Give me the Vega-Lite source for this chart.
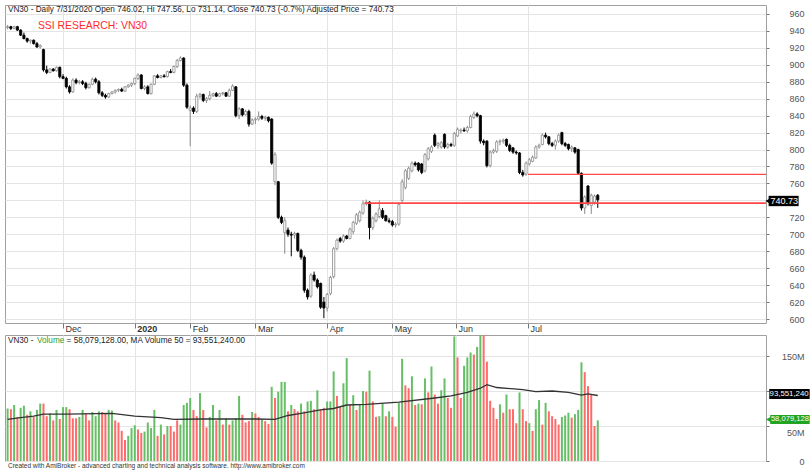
{
"$schema":"https://vega.github.io/schema/vega-lite/v6.json",
"padding":{"left":4,"top":4,"right":0,"bottom":0},
"background":"white",
"config":{"view":{"stroke":"#a0a0a0"},"font":"Liberation Sans","text":{"font":"Liberation Sans"}},
"datasets":{
"one":[{}],
"d":[
{"i":0,"o":944,"h":947,"l":942,"c":945,"v":75,"g":1},
{"i":1,"o":945,"h":946,"l":941,"c":943,"v":74,"g":0},
{"i":2,"o":943,"h":946,"l":942,"c":945,"v":80,"g":1},
{"i":3,"o":945,"h":946,"l":940,"c":941,"v":63,"g":0},
{"i":4,"o":941,"h":942,"l":934,"c":935,"v":76,"g":1},
{"i":5,"o":935,"h":938,"l":930,"c":931,"v":79,"g":1},
{"i":6,"o":931,"h":932,"l":926,"c":928,"v":66,"g":0},
{"i":7,"o":928,"h":930,"l":925,"c":929,"v":71,"g":1},
{"i":8,"o":929,"h":930,"l":924,"c":925,"v":63,"g":0},
{"i":9,"o":925,"h":927,"l":920,"c":921,"v":73,"g":1},
{"i":10,"o":921,"h":924,"l":919,"c":923,"v":82,"g":1},
{"i":11,"o":918,"h":919,"l":892,"c":894,"v":82,"g":0},
{"i":12,"o":894,"h":899,"l":889,"c":891,"v":64,"g":0},
{"i":13,"o":891,"h":896,"l":890,"c":895,"v":68,"g":1},
{"i":14,"o":895,"h":896,"l":892,"c":893,"v":58,"g":0},
{"i":15,"o":893,"h":898,"l":892,"c":897,"v":73,"g":1},
{"i":16,"o":897,"h":898,"l":884,"c":886,"v":60,"g":0},
{"i":17,"o":886,"h":889,"l":883,"c":884,"v":77,"g":1},
{"i":18,"o":884,"h":886,"l":872,"c":874,"v":77,"g":1},
{"i":19,"o":874,"h":876,"l":866,"c":868,"v":74,"g":0},
{"i":20,"o":868,"h":884,"l":867,"c":882,"v":61,"g":0},
{"i":21,"o":882,"h":884,"l":877,"c":879,"v":61,"g":0},
{"i":22,"o":879,"h":882,"l":877,"c":880,"v":63,"g":1},
{"i":23,"o":880,"h":882,"l":876,"c":878,"v":73,"g":1},
{"i":24,"o":878,"h":880,"l":871,"c":873,"v":68,"g":0},
{"i":25,"o":873,"h":878,"l":872,"c":877,"v":58,"g":0},
{"i":26,"o":877,"h":885,"l":876,"c":883,"v":70,"g":1},
{"i":27,"o":883,"h":885,"l":878,"c":880,"v":64,"g":1},
{"i":28,"o":880,"h":882,"l":865,"c":867,"v":71,"g":1},
{"i":29,"o":867,"h":869,"l":862,"c":864,"v":70,"g":0},
{"i":30,"o":864,"h":866,"l":860,"c":862,"v":68,"g":0},
{"i":31,"o":862,"h":867,"l":861,"c":866,"v":73,"g":1},
{"i":32,"o":866,"h":869,"l":865,"c":868,"v":72,"g":1},
{"i":33,"o":868,"h":871,"l":866,"c":870,"v":58,"g":0},
{"i":34,"o":870,"h":872,"l":868,"c":871,"v":55,"g":0},
{"i":35,"o":871,"h":873,"l":868,"c":869,"v":43,"g":0},
{"i":36,"o":869,"h":875,"l":868,"c":874,"v":30,"g":0},
{"i":37,"o":874,"h":877,"l":873,"c":876,"v":36,"g":1},
{"i":38,"o":876,"h":879,"l":874,"c":878,"v":47,"g":1},
{"i":39,"o":878,"h":885,"l":876,"c":884,"v":51,"g":1},
{"i":40,"o":884,"h":890,"l":882,"c":888,"v":45,"g":0},
{"i":41,"o":888,"h":889,"l":871,"c":872,"v":40,"g":0},
{"i":42,"o":872,"h":876,"l":870,"c":874,"v":42,"g":1},
{"i":43,"o":874,"h":876,"l":865,"c":866,"v":55,"g":1},
{"i":44,"o":866,"h":878,"l":865,"c":877,"v":47,"g":1},
{"i":45,"o":877,"h":888,"l":876,"c":887,"v":73,"g":1},
{"i":46,"o":887,"h":889,"l":884,"c":885,"v":36,"g":0},
{"i":47,"o":885,"h":888,"l":884,"c":887,"v":52,"g":1},
{"i":48,"o":887,"h":889,"l":885,"c":886,"v":38,"g":0},
{"i":49,"o":886,"h":893,"l":885,"c":892,"v":50,"g":1},
{"i":50,"o":892,"h":895,"l":890,"c":891,"v":50,"g":0},
{"i":51,"o":891,"h":899,"l":890,"c":898,"v":42,"g":0},
{"i":52,"o":898,"h":907,"l":896,"c":905,"v":58,"g":0},
{"i":53,"o":905,"h":910,"l":904,"c":908,"v":52,"g":1},
{"i":54,"o":908,"h":909,"l":874,"c":876,"v":80,"g":1},
{"i":55,"o":876,"h":878,"l":848,"c":850,"v":83,"g":1},
{"i":56,"o":846,"h":852,"l":804,"c":849,"v":90,"g":1},
{"i":57,"o":849,"h":851,"l":842,"c":845,"v":73,"g":0},
{"i":58,"o":845,"h":866,"l":843,"c":863,"v":64,"g":0},
{"i":59,"o":863,"h":867,"l":860,"c":865,"v":97,"g":1},
{"i":60,"o":865,"h":866,"l":856,"c":858,"v":73,"g":0},
{"i":61,"o":858,"h":862,"l":855,"c":860,"v":48,"g":0},
{"i":62,"o":860,"h":869,"l":858,"c":864,"v":63,"g":1},
{"i":63,"o":864,"h":867,"l":862,"c":866,"v":80,"g":1},
{"i":64,"o":866,"h":868,"l":862,"c":863,"v":58,"g":0},
{"i":65,"o":863,"h":867,"l":862,"c":866,"v":73,"g":1},
{"i":66,"o":866,"h":868,"l":864,"c":867,"v":52,"g":0},
{"i":67,"o":867,"h":868,"l":862,"c":863,"v":61,"g":1},
{"i":68,"o":863,"h":872,"l":862,"c":870,"v":52,"g":0},
{"i":69,"o":870,"h":877,"l":869,"c":875,"v":58,"g":1},
{"i":70,"o":874,"h":875,"l":838,"c":840,"v":61,"g":1},
{"i":71,"o":840,"h":850,"l":836,"c":848,"v":93,"g":1},
{"i":72,"o":848,"h":849,"l":839,"c":841,"v":66,"g":0},
{"i":73,"o":841,"h":847,"l":840,"c":845,"v":55,"g":0},
{"i":74,"o":845,"h":847,"l":827,"c":830,"v":57,"g":0},
{"i":75,"o":830,"h":837,"l":829,"c":835,"v":70,"g":1},
{"i":76,"o":835,"h":838,"l":830,"c":836,"v":68,"g":0},
{"i":77,"o":836,"h":845,"l":834,"c":839,"v":63,"g":0},
{"i":78,"o":839,"h":841,"l":835,"c":837,"v":60,"g":1},
{"i":79,"o":837,"h":840,"l":834,"c":838,"v":57,"g":0},
{"i":80,"o":838,"h":839,"l":832,"c":834,"v":53,"g":0},
{"i":81,"o":836,"h":837,"l":782,"c":784,"v":106,"g":1},
{"i":82,"o":762,"h":797,"l":758,"c":794,"v":90,"g":0},
{"i":83,"o":762,"h":763,"l":718,"c":720,"v":99,"g":1},
{"i":84,"o":720,"h":722,"l":712,"c":714,"v":113,"g":1},
{"i":85,"o":702,"h":720,"l":677,"c":716,"v":113,"g":1},
{"i":86,"o":705,"h":708,"l":697,"c":700,"v":71,"g":0},
{"i":87,"o":700,"h":703,"l":674,"c":699,"v":80,"g":1},
{"i":88,"o":699,"h":703,"l":695,"c":701,"v":74,"g":0},
{"i":89,"o":701,"h":702,"l":679,"c":681,"v":71,"g":0},
{"i":90,"o":681,"h":683,"l":670,"c":673,"v":82,"g":1},
{"i":91,"o":673,"h":675,"l":631,"c":634,"v":71,"g":0},
{"i":92,"o":634,"h":636,"l":623,"c":626,"v":85,"g":1},
{"i":93,"o":627,"h":654,"l":625,"c":652,"v":86,"g":1},
{"i":94,"o":652,"h":656,"l":644,"c":646,"v":74,"g":0},
{"i":95,"o":646,"h":648,"l":636,"c":638,"v":101,"g":1},
{"i":96,"o":642,"h":643,"l":612,"c":614,"v":74,"g":0},
{"i":97,"o":620,"h":626,"l":601,"c":613,"v":76,"g":0},
{"i":98,"o":613,"h":631,"l":609,"c":629,"v":85,"g":1},
{"i":99,"o":630,"h":651,"l":628,"c":649,"v":85,"g":1},
{"i":100,"o":650,"h":685,"l":648,"c":683,"v":128,"g":1},
{"i":101,"o":683,"h":695,"l":681,"c":693,"v":93,"g":0},
{"i":102,"o":695,"h":697,"l":690,"c":692,"v":77,"g":0},
{"i":103,"o":692,"h":700,"l":690,"c":698,"v":111,"g":1},
{"i":104,"o":698,"h":699,"l":694,"c":695,"v":147,"g":1},
{"i":105,"o":695,"h":708,"l":694,"c":706,"v":80,"g":0},
{"i":106,"o":703,"h":716,"l":700,"c":714,"v":94,"g":1},
{"i":107,"o":713,"h":725,"l":711,"c":723,"v":73,"g":0},
{"i":108,"o":716,"h":728,"l":714,"c":726,"v":80,"g":1},
{"i":109,"o":725,"h":740,"l":723,"c":736,"v":100,"g":1},
{"i":110,"o":736,"h":741,"l":734,"c":738,"v":99,"g":0},
{"i":111,"o":738,"h":739,"l":694,"c":708,"v":129,"g":1},
{"i":112,"o":708,"h":721,"l":705,"c":719,"v":85,"g":0},
{"i":113,"o":716,"h":726,"l":714,"c":724,"v":63,"g":0},
{"i":114,"o":721,"h":740,"l":719,"c":730,"v":64,"g":1},
{"i":115,"o":728,"h":731,"l":718,"c":720,"v":82,"g":1},
{"i":116,"o":722,"h":723,"l":715,"c":716,"v":64,"g":0},
{"i":117,"o":716,"h":719,"l":713,"c":715,"v":71,"g":1},
{"i":118,"o":715,"h":717,"l":709,"c":711,"v":63,"g":0},
{"i":119,"o":711,"h":714,"l":708,"c":712,"v":49,"g":0},
{"i":120,"o":712,"h":737,"l":710,"c":735,"v":83,"g":1},
{"i":121,"o":740,"h":765,"l":738,"c":762,"v":146,"g":1},
{"i":122,"o":755,"h":777,"l":753,"c":775,"v":108,"g":0},
{"i":123,"o":766,"h":780,"l":764,"c":778,"v":104,"g":0},
{"i":124,"o":775,"h":786,"l":773,"c":784,"v":121,"g":1},
{"i":125,"o":784,"h":786,"l":780,"c":782,"v":80,"g":0},
{"i":126,"o":784,"h":785,"l":774,"c":776,"v":82,"g":1},
{"i":127,"o":783,"h":784,"l":771,"c":773,"v":81,"g":0},
{"i":128,"o":775,"h":796,"l":773,"c":794,"v":118,"g":1},
{"i":129,"o":789,"h":803,"l":787,"c":801,"v":98,"g":0},
{"i":130,"o":798,"h":805,"l":796,"c":803,"v":135,"g":1},
{"i":131,"o":817,"h":819,"l":803,"c":805,"v":95,"g":0},
{"i":132,"o":805,"h":809,"l":801,"c":807,"v":82,"g":0},
{"i":133,"o":803,"h":810,"l":801,"c":808,"v":101,"g":1},
{"i":134,"o":818,"h":819,"l":801,"c":803,"v":118,"g":1},
{"i":135,"o":803,"h":808,"l":801,"c":806,"v":90,"g":0},
{"i":136,"o":806,"h":808,"l":803,"c":805,"v":76,"g":0},
{"i":137,"o":805,"h":821,"l":803,"c":819,"v":178,"g":1},
{"i":138,"o":816,"h":826,"l":815,"c":824,"v":148,"g":0},
{"i":139,"o":822,"h":825,"l":819,"c":823,"v":90,"g":0},
{"i":140,"o":823,"h":826,"l":821,"c":822,"v":136,"g":1},
{"i":141,"o":822,"h":828,"l":820,"c":826,"v":148,"g":1},
{"i":142,"o":826,"h":841,"l":825,"c":839,"v":155,"g":1},
{"i":143,"o":838,"h":845,"l":836,"c":842,"v":152,"g":0},
{"i":144,"o":842,"h":844,"l":838,"c":840,"v":163,"g":1},
{"i":145,"o":840,"h":841,"l":807,"c":810,"v":185,"g":1},
{"i":146,"o":810,"h":812,"l":805,"c":808,"v":185,"g":0},
{"i":147,"o":810,"h":811,"l":779,"c":781,"v":142,"g":0},
{"i":148,"o":781,"h":799,"l":779,"c":797,"v":86,"g":0},
{"i":149,"o":797,"h":801,"l":795,"c":799,"v":76,"g":0},
{"i":150,"o":798,"h":811,"l":796,"c":809,"v":60,"g":0},
{"i":151,"o":809,"h":812,"l":805,"c":810,"v":81,"g":1},
{"i":152,"o":810,"h":813,"l":807,"c":811,"v":69,"g":0},
{"i":153,"o":812,"h":813,"l":803,"c":805,"v":95,"g":1},
{"i":154,"o":805,"h":807,"l":797,"c":799,"v":74,"g":0},
{"i":155,"o":802,"h":803,"l":795,"c":797,"v":74,"g":0},
{"i":156,"o":797,"h":799,"l":794,"c":796,"v":54,"g":0},
{"i":157,"o":796,"h":797,"l":771,"c":773,"v":98,"g":1},
{"i":158,"o":773,"h":776,"l":768,"c":770,"v":74,"g":0},
{"i":159,"o":771,"h":786,"l":769,"c":784,"v":57,"g":0},
{"i":160,"o":783,"h":790,"l":781,"c":788,"v":54,"g":1},
{"i":161,"o":786,"h":793,"l":785,"c":791,"v":43,"g":0},
{"i":162,"o":790,"h":805,"l":789,"c":803,"v":74,"g":1},
{"i":163,"o":803,"h":807,"l":801,"c":805,"v":87,"g":1},
{"i":164,"o":806,"h":819,"l":805,"c":817,"v":52,"g":0},
{"i":165,"o":817,"h":820,"l":813,"c":815,"v":83,"g":1},
{"i":166,"o":815,"h":816,"l":805,"c":807,"v":71,"g":0},
{"i":167,"o":807,"h":809,"l":803,"c":805,"v":64,"g":0},
{"i":168,"o":805,"h":812,"l":800,"c":810,"v":60,"g":0},
{"i":169,"o":810,"h":819,"l":808,"c":817,"v":52,"g":0},
{"i":170,"o":820,"h":821,"l":805,"c":807,"v":63,"g":1},
{"i":171,"o":807,"h":809,"l":803,"c":805,"v":65,"g":1},
{"i":172,"o":806,"h":807,"l":799,"c":801,"v":69,"g":1},
{"i":173,"o":801,"h":805,"l":797,"c":803,"v":62,"g":0},
{"i":174,"o":802,"h":803,"l":795,"c":797,"v":67,"g":1},
{"i":175,"o":800,"h":801,"l":770,"c":772,"v":73,"g":1},
{"i":176,"o":772,"h":773,"l":728,"c":731,"v":141,"g":1},
{"i":177,"o":731,"h":746,"l":724,"c":744,"v":127,"g":0},
{"i":178,"o":757,"h":758,"l":734,"c":737,"v":107,"g":0},
{"i":179,"o":734,"h":748,"l":724,"c":746,"v":95,"g":0},
{"i":180,"o":738,"h":747,"l":735,"c":745,"v":50,"g":0},
{"i":181,"o":746.02,"h":747.56,"l":731.14,"c":740.73,"v":58.08,"g":1}
],
"ma":[
{"i":0,"m":59.5},{"i":4,"m":62},{"i":8,"m":64},{"i":11,"m":67},{"i":18,"m":67},{"i":32,"m":68},{"i":39,"m":64},{"i":47,"m":62},{"i":51,"m":59.5},{"i":59,"m":60},{"i":70,"m":60},{"i":76,"m":60},{"i":82,"m":59.5},{"i":86,"m":65},{"i":90,"m":68},{"i":96,"m":73},{"i":100,"m":75},{"i":104,"m":80},{"i":110,"m":81},{"i":120,"m":84},{"i":131,"m":90},{"i":136,"m":93},{"i":141,"m":98},{"i":145,"m":104},{"i":147,"m":109},{"i":150,"m":105},{"i":158,"m":102},{"i":162,"m":99},{"i":167,"m":100},{"i":172,"m":98},{"i":176,"m":94},{"i":178,"m":96},{"i":181,"m":93.55}
],
"lines":[{"x":109.5,"x2":232.6,"y":736.8},{"x":159.6,"x2":232.6,"y":770.7}]
},
"spacing":0,
"vconcat":[
{
"width":761,"height":318,
"layer":[
{"data":{"name":"d"},"mark":{"type":"rule","strokeWidth":1},
"encoding":{
"x":{"field":"i","type":"quantitative","title":null,"scale":{"domain":[-0.8,232.6],"nice":false,"zero":false,"padding":0},
"axis":{"orient":"bottom","values":[17,39,56,76,98,118,137.5,159.6],"tickCount":50,
"labelExpr":"datum.value<20?'Dec':datum.value<40?'2020':datum.value<60?'Feb':datum.value<80?'Mar':datum.value<100?'Apr':datum.value<120?'May':datum.value<140?'Jun':'Jul'",
"grid":true,"gridColor":"#e4e4e4","tickSize":5,"tickColor":"#777","domain":false,"labelAlign":"left","labelBaseline":"top","labelPadding":-4,"labelOffset":2,"labelFontSize":9,"labelColor":"#333","labelOverlap":false,"labelFlush":false,
"labelFontWeight":{"condition":{"test":"datum.value==39","value":"bold"},"value":"normal"}}},
"y":{"field":"l","type":"quantitative","title":null,"scale":{"domain":[595.3,970.6],"nice":false,"zero":false},
"axis":{"orient":"right","values":[600,620,640,660,680,700,720,740,760,780,800,820,840,860,880,900,920,940,960],"tickCount":50,"labelExpr":"datum.value==740?'':datum.label","grid":true,"gridColor":"#e4e4e4","tickSize":3,"tickColor":"#777","domain":false,"labelAlign":"right","labelPadding":35,"labelFontSize":9,"labelColor":"#555","labelOverlap":false,"labelBound":false}},
"y2":{"field":"h"},
"color":{"condition":{"test":"datum.c<datum.o","value":"#000000"},"value":"#8a8a8a"}}},
{"data":{"name":"d"},"mark":{"type":"bar","size":2.2,"strokeWidth":0.8},
"encoding":{
"x":{"field":"i","type":"quantitative","title":null},
"y":{"field":"o","type":"quantitative","title":null},
"y2":{"field":"c"},
"fill":{"condition":{"test":"datum.c<datum.o","value":"#000000"},"value":"#ffffff"},
"stroke":{"condition":{"test":"datum.c<datum.o","value":"#000000"},"value":"#8a8a8a"}}},
{"data":{"name":"lines"},"mark":{"type":"rule","color":"#ff4848"},
"encoding":{
"x":{"field":"x","type":"quantitative","title":null},"x2":{"field":"x2"},
"y":{"field":"y","type":"quantitative","title":null},
"strokeWidth":{"condition":{"test":"datum.y>760","value":1.2},"value":1.6}}},
{"data":{"name":"one"},"mark":{"type":"text","align":"left","baseline":"middle","fontSize":8.2,"color":"#222"},
"encoding":{"x":{"datum":0.1,"type":"quantitative"},"y":{"datum":964.7,"type":"quantitative"},
"text":{"value":"VN30 - Daily 7/31/2020 Open 746.02, Hi 747.56, Lo 731.14, Close 740.73 (-0.7%) Adjusted Price = 740.73"}}},
{"data":{"name":"one"},"mark":{"type":"text","align":"left","baseline":"middle","fontSize":10.4,"color":"#ff2a2a"},
"encoding":{"x":{"datum":9.3,"type":"quantitative"},"y":{"datum":945.8,"type":"quantitative"},
"text":{"value":"SSI RESEARCH: VN30"}}},
{"data":{"name":"one"},"mark":{"type":"rect","color":"#000000"},
"encoding":{"x":{"datum":233.4,"type":"quantitative"},"x2":{"datum":242.6},"y":{"datum":733.2,"type":"quantitative"},"y2":{"datum":745.4}}},
{"data":{"name":"one"},"mark":{"type":"point","shape":"triangle-left","filled":true,"size":45,"color":"#000000","opacity":1},
"encoding":{"x":{"datum":233.3,"type":"quantitative"},"y":{"datum":739.3,"type":"quantitative"}}},
{"data":{"name":"one"},"mark":{"type":"text","align":"center","baseline":"middle","fontSize":9,"color":"#ffffff"},
"encoding":{"x":{"datum":238.2,"type":"quantitative"},"y":{"datum":739.3,"type":"quantitative"},"text":{"value":"740.73"}}}
]
},
{
"width":761,"height":126,
"layer":[
{"data":{"name":"d"},"mark":{"type":"bar","size":2,"clip":true},
"encoding":{
"x":{"field":"i","type":"quantitative","title":null,"scale":{"domain":[-0.8,232.6],"nice":false,"zero":false,"padding":0},
"axis":{"values":[17,39,56,76,98,118,137.5,159.6],"tickCount":50,"grid":true,"gridColor":"#e4e4e4","labels":false,"ticks":false,"domain":false}},
"y":{"field":"v","type":"quantitative","title":null,"scale":{"domain":[0,180],"nice":false,"padding":0},
"axis":{"orient":"right","values":[0,50,100,150],"labelExpr":"datum.value==0?'0':datum.value==100?'':datum.value+'M'","grid":true,"gridColor":"#e4e4e4","tickSize":3,"tickColor":"#777","domain":false,"labelAlign":"right","labelPadding":35,"labelFontSize":9,"labelColor":"#555","labelOverlap":false,
"labelOffset":{"condition":{"test":"datum.value==50","value":6},"value":0}}},
"y2":{"datum":0},
"color":{"condition":{"test":"datum.g==1","value":"#66bf66"},"value":"#ff6a6a"}}},
{"data":{"name":"ma"},"mark":{"type":"line","color":"#333333","strokeWidth":1.3},
"encoding":{"x":{"field":"i","type":"quantitative","title":null},"y":{"field":"m","type":"quantitative","title":null}}},
{"data":{"name":"one"},"mark":{"type":"text","align":"left","baseline":"middle","fontSize":8.2,"color":"#222"},
"encoding":{"x":{"datum":0.1,"type":"quantitative"},"y":{"datum":171.4,"type":"quantitative"},"text":{"value":"VN30 -"}}},
{"data":{"name":"one"},"mark":{"type":"text","align":"left","baseline":"middle","fontSize":8.2,"color":"#2e9e2e"},
"encoding":{"x":{"datum":9.0,"type":"quantitative"},"y":{"datum":171.4,"type":"quantitative"},"text":{"value":"Volume"}}},
{"data":{"name":"one"},"mark":{"type":"text","align":"left","baseline":"middle","fontSize":8.2,"color":"#222"},
"encoding":{"x":{"datum":18.1,"type":"quantitative"},"y":{"datum":171.4,"type":"quantitative"},"text":{"value":"= 58,079,128.00, MA Volume 50 = 93,551,240.00"}}},
{"data":{"name":"one"},"mark":{"type":"text","align":"left","baseline":"top","fontSize":6.5,"color":"#333"},
"encoding":{"x":{"datum":0.1,"type":"quantitative"},"y":{"datum":-3.2,"type":"quantitative"},"text":{"value":"Created with AmiBroker - advanced charting and technical analysis software. http://www.amibroker.com"}}},
{"data":{"name":"one"},"mark":{"type":"rect","color":"#000000"},
"encoding":{"x":{"datum":233.6,"type":"quantitative"},"x2":{"datum":246},"y":{"datum":88.6,"type":"quantitative"},"y2":{"datum":102.9}}},
{"data":{"name":"one"},"mark":{"type":"text","align":"left","baseline":"middle","fontSize":7.8,"color":"#ffffff"},
"encoding":{"x":{"datum":233.7,"type":"quantitative"},"y":{"datum":95.7,"type":"quantitative"},"text":{"value":"93,551,240"}}},
{"data":{"name":"one"},"mark":{"type":"rect","color":"#22a322"},
"encoding":{"x":{"datum":233.9,"type":"quantitative"},"x2":{"datum":246},"y":{"datum":52.9,"type":"quantitative"},"y2":{"datum":65.7}}},
{"data":{"name":"one"},"mark":{"type":"point","shape":"triangle-left","filled":true,"size":45,"color":"#22a322","opacity":1},
"encoding":{"x":{"datum":233.5,"type":"quantitative"},"y":{"datum":59.3,"type":"quantitative"}}},
{"data":{"name":"one"},"mark":{"type":"text","align":"left","baseline":"middle","fontSize":7.6,"color":"#ffffff"},
"encoding":{"x":{"datum":234.1,"type":"quantitative"},"y":{"datum":59.3,"type":"quantitative"},"text":{"value":"58,079,128"}}}
]
}
]
}
